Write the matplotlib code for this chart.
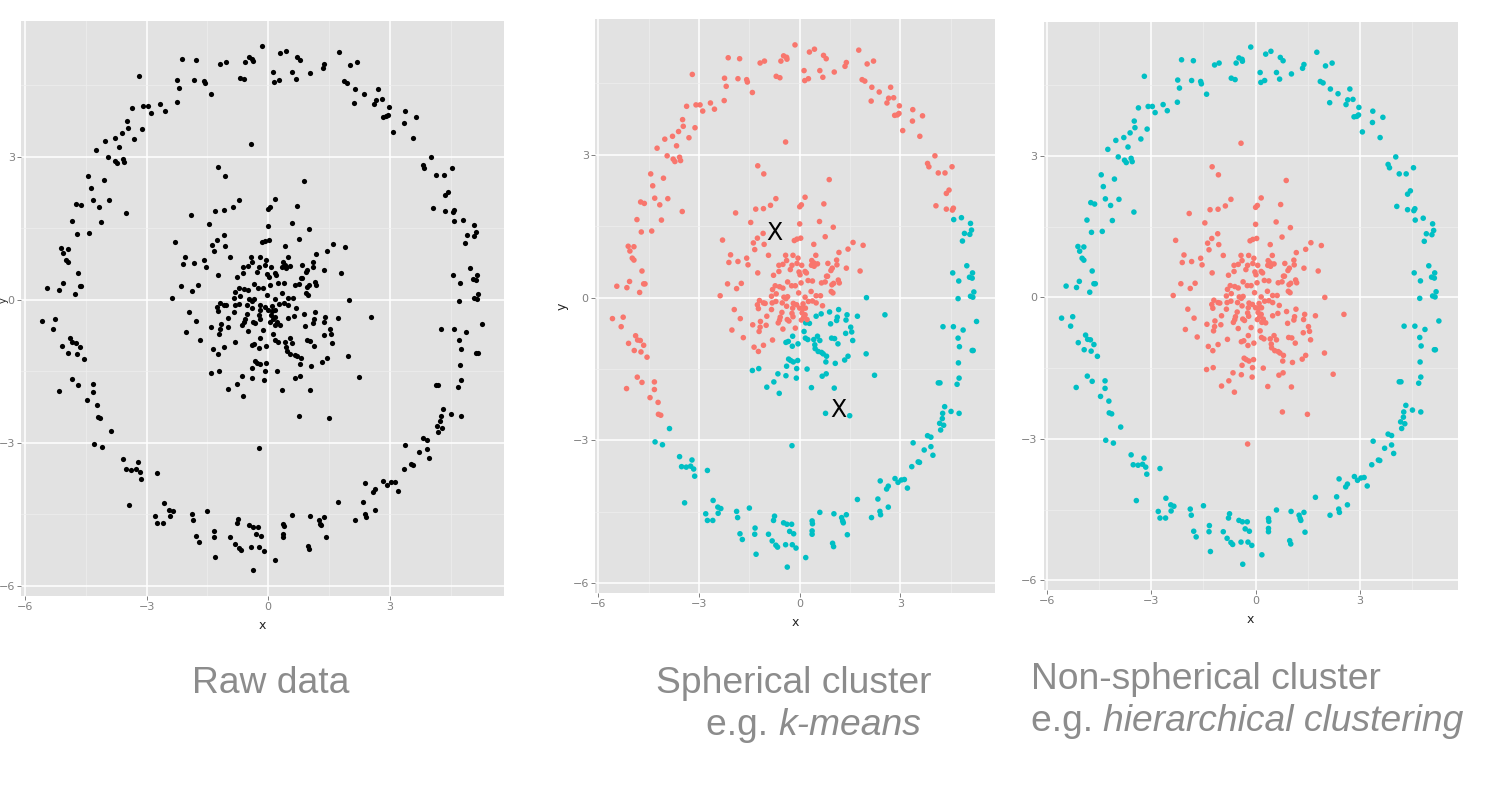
import numpy as np
import matplotlib.pyplot as plt
from matplotlib.ticker import MultipleLocator

# points, (x, y)
ring_top = [(-0.14, 5.31), (-2.13, 5.04), (-1.79, 5.02), (-3.20, 4.69), (-2.24, 4.61), (-2.19, 4.44),
            (-1.84, 4.60), (-1.58, 4.58), (-1.56, 4.53), (-1.41, 4.31), (-2.25, 4.14), (-3.37, 4.02),
            (-3.09, 4.05), (-2.97, 4.05), (-2.89, 3.92), (-2.66, 4.09), (-2.54, 3.96), (-3.49, 3.74),
            (-3.47, 3.60), (-3.61, 3.49), (-3.12, 3.57), (-3.30, 3.36), (-4.02, 3.33), (-3.79, 3.39),
            (-3.67, 3.19), (-4.25, 3.14), (-3.95, 2.98), (-3.77, 2.91), (-3.72, 2.86), (-3.58, 2.95),
            (-3.55, 2.88), (-4.44, 2.60), (-4.06, 2.51), (-4.38, 2.35), (-1.18, 4.93), (-1.05, 4.97),
            (-0.70, 4.65), (-0.59, 4.62), (-0.56, 4.97), (-0.48, 5.08), (-0.39, 5.05), (-0.38, 5.01),
            (0.13, 4.77), (0.15, 4.56), (0.26, 4.60), (0.29, 5.16), (0.44, 5.22), (0.60, 4.77),
            (0.69, 4.63), (0.71, 5.09), (0.79, 5.02), (1.03, 4.74), (1.35, 4.86), (1.39, 4.94),
            (1.76, 5.20), (2.01, 4.91), (2.20, 4.97), (1.86, 4.58), (1.94, 4.55), (2.15, 4.42),
            (2.37, 4.32), (2.13, 4.13), (2.71, 4.42), (2.65, 4.19), (2.60, 4.09), (2.80, 4.20),
            (2.97, 4.03), (2.83, 3.83), (2.91, 3.84), (2.96, 3.87), (3.07, 3.51), (3.37, 3.95),
            (3.36, 3.71), (3.66, 3.82), (3.58, 3.39), (4.03, 2.98), (3.81, 2.82), (3.85, 2.75),
            (4.13, 2.62), (4.33, 2.62), (4.54, 2.75)]

ring_left = [(-4.32, 2.09), (-3.93, 2.08), (-4.74, 2.01), (-4.63, 1.98), (-4.17, 1.95), (-3.50, 1.81),
             (-4.85, 1.64), (-4.12, 1.63), (-4.72, 1.38), (-4.41, 1.40), (-5.11, 1.08), (-4.94, 1.07),
             (-5.06, 0.98), (-4.99, 0.83), (-4.94, 0.79), (-4.70, 0.56), (-5.07, 0.34), (-5.45, 0.24),
             (-5.15, 0.21), (-4.65, 0.29), (-4.61, 0.29), (-4.77, 0.11), (-5.58, -0.44), (-5.26, -0.41),
             (-5.32, -0.61), (-4.89, -0.80), (-4.83, -0.89), (-4.75, -0.90), (-5.10, -0.96), (-4.65, -1.00),
             (-4.93, -1.11), (-4.73, -1.14), (-4.55, -1.25), (-4.84, -1.67), (-4.70, -1.78), (-5.16, -1.91),
             (-4.33, -1.77), (-4.33, -1.93), (-4.46, -2.10), (-4.22, -2.20), (-4.21, -2.45), (-4.14, -2.47),
             (-3.88, -2.75), (-4.31, -3.03), (-4.09, -3.09)]

ring_right = [(4.45, 2.26), (4.37, 2.19), (4.06, 1.93), (4.37, 1.86), (4.55, 1.84), (4.58, 1.88),
              (4.59, 1.64), (4.82, 1.68), (5.09, 1.56), (5.12, 1.42), (4.91, 1.35), (5.07, 1.33),
              (4.85, 1.19), (4.98, 0.67), (4.56, 0.52), (5.15, 0.52), (5.06, 0.43), (5.14, 0.41),
              (4.74, 0.35), (5.19, 0.12), (5.09, 0.03), (5.16, 0.01), (4.72, -0.02), (5.27, -0.50),
              (4.27, -0.61), (4.58, -0.61), (4.87, -0.68), (4.72, -0.85), (4.76, -1.03), (5.14, -1.11),
              (5.17, -1.11), (4.73, -1.37), (4.75, -1.69), (4.13, -1.79), (4.18, -1.79), (4.69, -1.82),
              (4.32, -2.29), (4.51, -2.39), (4.75, -2.43), (4.26, -2.43), (4.25, -2.54), (4.17, -2.64),
              (4.29, -2.68), (4.20, -2.78), (3.81, -2.90), (3.91, -2.93), (3.38, -3.05), (3.91, -3.13)]

ring_bottom = [(-3.58, -3.34), (-3.52, -3.55), (-3.38, -3.56), (-3.25, -3.54), (-3.21, -3.41), (-3.16, -3.60),
               (-3.13, -3.75), (-2.75, -3.63), (-3.43, -4.31), (-2.58, -4.26), (-2.44, -4.40), (-2.35, -4.43),
               (-2.43, -4.53), (-2.80, -4.54), (-2.75, -4.68), (-2.59, -4.68), (-1.88, -4.49), (-1.85, -4.62),
               (-1.50, -4.42), (-1.78, -4.96), (-1.71, -5.08), (-1.33, -4.84), (-1.34, -4.97), (-1.30, -5.39),
               (-0.93, -4.97), (-0.82, -5.11), (-0.71, -5.20), (-0.66, -5.24), (-0.75, -4.59), (-0.78, -4.68),
               (-0.48, -4.73), (-0.38, -4.76), (-0.24, -4.76), (-0.30, -4.91), (-0.18, -4.96), (-0.42, -5.19),
               (-0.22, -5.19), (-0.11, -5.26), (-0.37, -5.66), (0.18, -5.46), (0.37, -4.69), (0.38, -4.75),
               (0.37, -4.90), (0.37, -4.97), (0.60, -4.51), (0.98, -5.16), (1.01, -5.23), (1.02, -4.54),
               (1.25, -4.62), (1.28, -4.69), (1.30, -4.73), (1.39, -4.56), (1.42, -4.98), (1.72, -4.24),
               (2.14, -4.62), (2.33, -4.23), (2.39, -4.49), (2.41, -4.56), (2.40, -3.85), (2.59, -4.02),
               (2.64, -3.96), (2.64, -4.40), (2.84, -3.80), (2.93, -3.88), (3.03, -3.83), (3.12, -3.82),
               (3.21, -4.00), (3.34, -3.55), (3.53, -3.45), (3.57, -3.46), (3.71, -3.20), (3.97, -3.31)]

core_upper = [(-0.42, 3.27), (-1.25, 2.77), (-1.07, 2.60), (0.88, 2.48), (-0.71, 2.08), (-0.87, 1.94),
              (-1.08, 1.87), (-1.31, 1.86), (-1.91, 1.78), (0.16, 2.11), (0.05, 1.95), (0.00, 1.91),
              (0.72, 1.97), (-1.46, 1.58), (0.00, 1.55), (0.59, 1.60), (1.00, 1.48), (-2.30, 1.21),
              (-1.26, 1.25), (-1.09, 1.35), (-1.38, 1.15), (-1.34, 1.01), (-1.06, 1.12), (-0.16, 1.20),
              (-0.08, 1.23), (0.03, 1.25), (0.76, 1.28), (1.59, 1.16), (1.89, 1.10), (0.42, 1.12),
              (1.44, 1.02), (-2.06, 0.90), (-2.11, 0.74), (-1.84, 0.76), (-1.58, 0.83), (-1.54, 0.69),
              (-0.93, 0.89), (-0.42, 0.89), (-0.20, 0.89), (-0.39, 0.78), (-0.62, 0.68), (-0.50, 0.70),
              (-0.23, 0.68), (-0.05, 0.83), (-0.08, 0.72), (0.06, 0.68), (0.48, 0.89), (0.36, 0.78),
              (0.42, 0.73), (0.35, 0.68), (0.53, 0.71), (0.84, 0.72), (0.97, 0.62), (1.11, 0.69),
              (1.17, 0.95), (1.39, 0.62), (1.80, 0.56), (-1.25, 0.52), (-0.78, 0.47), (-0.62, 0.55),
              (-0.28, 0.59), (-0.02, 0.54), (0.01, 0.48), (0.16, 0.55), (0.20, 0.52), (0.43, 0.66),
              (0.83, 0.45), (0.93, 0.57), (1.10, 0.79), (-2.15, 0.29), (-1.88, 0.19), (-1.74, 0.30),
              (-0.36, 0.33), (-0.24, 0.25), (-0.13, 0.25), (0.04, 0.31), (0.25, 0.36), (0.38, 0.35),
              (0.65, 0.31), (0.76, 0.33), (0.80, 0.45), (0.96, 0.27), (1.01, 0.30), (1.15, 0.37),
              (1.18, 0.31), (-0.73, 0.25), (-0.60, 0.23), (-0.50, 0.20), (-0.81, 0.17)]

core_lower = [(-2.37, 0.04), (-1.95, -0.25), (-1.77, -0.44), (-2.02, -0.68), (-1.68, -0.84), (-1.40, -0.57),
              (-1.36, -1.04), (-1.23, -1.13), (-1.08, -1.00), (-1.41, -1.53), (-1.22, -1.49), (-1.26, -0.15),
              (-1.23, -0.23), (-1.20, -0.06), (-1.08, -0.11), (-1.03, -0.12), (-1.17, -0.50), (-1.18, -0.62),
              (-1.21, -0.71), (-1.00, -0.58), (-0.98, -0.39), (-0.84, 0.03), (-0.82, -0.11), (-0.70, 0.08),
              (-0.84, -0.25), (-0.71, -0.08), (-0.53, -0.31), (-0.58, -0.41), (-0.60, -0.47), (-0.64, -0.53),
              (-0.50, -0.66), (-0.37, -0.46), (-0.32, -0.49), (-0.23, -0.33), (-0.20, -0.40), (-0.19, -0.12),
              (-0.39, -0.18), (-0.47, 0.01), (-0.41, -0.02), (-0.36, 0.02), (-0.03, 0.10), (0.00, -0.22),
              (0.09, -0.23), (0.17, -0.22), (0.07, -0.32), (0.05, -0.47), (0.16, -0.36), (0.18, -0.53),
              (0.29, -0.54), (-0.13, -0.64), (0.13, -0.71), (0.17, -0.85), (0.24, -0.88), (0.10, -0.13),
              (0.26, -0.08), (0.38, -0.07), (0.16, 0.01), (0.34, 0.13), (0.49, 0.04), (0.62, 0.04),
              (0.49, -0.11), (0.68, -0.17), (0.49, -0.39), (0.64, -0.34), (0.89, -0.30), (0.92, -0.55),
              (1.16, -0.25), (1.12, -0.41), (1.10, -0.48), (1.41, -0.36), (1.38, -0.47), (1.72, -0.39),
              (2.54, -0.36), (1.99, 0.00), (0.94, 0.13), (0.99, 0.10), (1.52, -0.62), (1.55, -0.72),
              (1.37, -0.75), (1.58, -0.90), (0.95, -0.85), (1.04, -0.86), (1.14, -0.97), (0.42, -0.88),
              (0.53, -0.81), (0.60, -0.90), (0.45, -0.99), (0.46, -1.07), (0.55, -1.13), (0.65, -1.15),
              (0.70, -1.18), (0.80, -1.23), (0.78, -1.35), (1.06, -1.38), (1.34, -1.31), (1.44, -1.23),
              (1.98, -1.18), (2.23, -1.63), (0.79, -1.60), (0.67, -1.65), (0.35, -1.89), (1.03, -1.90),
              (0.77, -2.43), (1.49, -2.48), (-0.23, -3.11), (-0.41, -0.94), (-0.34, -0.92), (-0.21, -0.81),
              (-0.22, -1.02), (-0.05, -0.97), (-0.81, -0.89), (-0.33, -1.29), (-0.27, -1.32), (-0.19, -1.35),
              (-0.06, -1.32), (-0.39, -1.44), (-0.09, -1.49), (0.22, -1.50), (-0.65, -1.60), (-0.41, -1.64),
              (-0.10, -1.69), (-0.77, -1.77), (-0.98, -1.88), (-0.61, -2.01), (-0.52, -0.11), (-0.21, -0.22),
              (-0.09, -0.15), (0.12, -0.41), (0.22, -0.46)]

# k-means centres (the "X" marks)
centre_x = [-0.76, 1.14]
centre_y = [1.35, -2.36]

tick_vals = [-6, -3, 0, 3]
RED = '#F8766D'
CYAN = '#00BFC4'

ring = np.array(ring_top + ring_left + ring_right + ring_bottom)
core = np.array(core_upper + core_lower)
pts = np.vstack([ring, core])
x, y = pts[:, 0], pts[:, 1]
in_core = np.r_[np.zeros(len(ring), bool), np.ones(len(core), bool)]

# k-means labels: nearest centre
d0 = (x - centre_x[0]) ** 2 + (y - centre_y[0]) ** 2
d1 = (x - centre_x[1]) ** 2 + (y - centre_y[1]) ** 2
km_col = np.where(d0 <= d1, RED, CYAN)
hc_col = np.where(in_core, RED, CYAN)

W, H = 1493, 794
fig = plt.figure(figsize=(W / 100, H / 100), dpi=100)


def gg_panel(left, top, right, bottom):
    ax = fig.add_axes([left / W, 1 - bottom / H, (right - left) / W, (bottom - top) / H])
    ax.set_facecolor('#e2e2e2')
    ax.set_xlim(-6.1, 5.82)
    ax.set_ylim(-6.2, 5.85)
    ax.set_xticks(tick_vals)
    ax.set_yticks(tick_vals)
    ax.xaxis.set_minor_locator(MultipleLocator(3, offset=1.5))
    ax.yaxis.set_minor_locator(MultipleLocator(3, offset=1.5))
    ax.grid(True, which='major', color='white', lw=1.1)
    ax.grid(True, which='minor', color='#eeeeee', lw=0.5)
    ax.set_axisbelow(True)
    for s in ax.spines.values():
        s.set_visible(False)
    ax.tick_params(which='major', length=3, width=0.7, color='#808080',
                   labelcolor='#808080', labelsize=8, pad=1.5)
    ax.tick_params(which='minor', length=0)
    ax.set_xlabel('x', fontsize=9, color='#222222', labelpad=5)
    return ax


ax1 = gg_panel(21, 20.5, 504, 595.6)
ax1.scatter(x, y, s=14, c='black', linewidths=0)
fig.text(3.5 / W, 1 - 300 / H, 'y', rotation=90, ha='center', va='center', fontsize=7, color='#222222')

ax2 = gg_panel(595, 19.2, 995, 592.8)
ax2.scatter(x, y, s=16, c=km_col, linewidths=0)
ax2.set_ylabel('y', fontsize=9, color='#222222')
ax2.yaxis.set_label_coords(-0.067, 0.5)
for cx, cy in zip(centre_x, centre_y):
    ax2.text(cx, cy, 'X', fontsize=17, ha='center', va='center', color='black')

ax3 = gg_panel(1043.5, 21.6, 1458, 589.7)
ax3.scatter(x, y, s=16, c=hc_col, linewidths=0)

cap = dict(fontsize=26.8, color='#8c8c8c', family='Liberation Sans', va='baseline')
fig.text(271 / W, 1 - 693 / H, 'Raw data', ha='center', **cap)
fig.text(656 / W, 1 - 693 / H, 'Spherical cluster', ha='left', **cap)
fig.text(1031 / W, 1 - 689 / H, 'Non-spherical cluster', ha='left', **cap)

r = fig.canvas.get_renderer()
t1 = fig.text(706 / W, 1 - 735 / H, 'e.g. ', ha='left', **cap)
bb = t1.get_window_extent(r)
fig.text(bb.x1 / W, 1 - 735 / H, 'k-means', ha='left', style='italic', **cap)
t2 = fig.text(1031 / W, 1 - 731 / H, 'e.g. ', ha='left', **cap)
bb = t2.get_window_extent(r)
fig.text(bb.x1 / W, 1 - 731 / H, 'hierarchical clustering', ha='left', style='italic', **cap)

fig.savefig('out.png', dpi=100)
